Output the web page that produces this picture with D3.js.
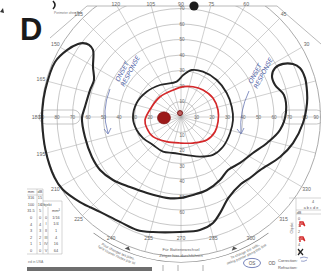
<!DOCTYPE html>
<html>
<head>
<meta charset="utf-8">
<script src="https://cdnjs.cloudflare.com/ajax/libs/d3/7.8.5/d3.min.js"></script>
<style>
  html, body { margin: 0; padding: 0; background: #fff; }
  svg { display: block; font-family: "Liberation Sans", Arial, sans-serif; }
</style>
</head>
<body>
<div id="chart"></div>
<script>
// ring eccentricities (deg) and meridian angles (deg, ccw from right)
var rings = [10, 20, 30, 40, 50, 60, 70, 80, 90];
var meridians = [0, 15, 30, 45, 60, 75, 90, 105, 120, 135, 150, 165, 180, 195, 210, 225, 240, 255, 270, 285, 300, 315, 330, 345];
var axisTicks = [10, 20, 30, 40, 50, 60, 70, 80, 90];

// isopters as [meridian angle, eccentricity]
var outerIsopter = [[142.7,71.4],[150.4,65.3],[157,61],[163.5,61.2],[174,62.3],[180.6,63.9],[191.8,63.3],[204.2,63],[213.2,62.4],[222.8,59.8],[233.9,55.9],[245.9,53.7],[259.8,53],[269.3,52.3],[278.7,50.9],[289.6,50],[301.8,47.8],[311.6,45.7],[322.1,48.3],[333.4,51.9],[343.2,58],[352.5,64.4],[2.7,67.8],[12.1,67.9],[18.8,64.1],[24.3,64.4],[27.5,68.4],[27.5,74.2],[25.3,79.9],[22.4,83],[17.5,83.9],[11.2,82.9],[6.3,81.8],[357.2,78.8],[346.9,74.2],[338,68.9],[326.1,61.4],[318.5,59.4],[311.8,58],[300.4,60.5],[292.1,66.9],[286.8,71.4],[279.5,73.9],[269.5,74.2],[256.3,76.4],[248.7,78.2],[239.8,78.3],[229.5,80.5],[220.1,85.2],[211.5,89.5],[205.5,90.5],[193.6,90],[182.5,89.6],[177.1,89.6],[168.8,89.3],[156.4,88.7],[149.6,85.3],[144.7,81.4],[143,79.2],[141.9,75.4]];
var middleIsopter = [[181.2,31],[162.5,30],[143.6,27.5],[123.3,24.7],[97,23],[86.9,27.1],[77.2,31.1],[64.1,32.5],[46,33.2],[27.7,33.3],[11.5,33.4],[356.7,33.6],[341.9,33.3],[324.7,33.2],[310.1,32],[295.6,28.4],[278.5,24.8],[257.5,23.8],[242.6,25.2],[225,25.5],[209,28],[196.4,29.8]];
var innerIsopter = [[184.8,23.3],[160.6,20],[136,18.8],[105.9,18.1],[85.7,19.6],[68.4,21],[50.8,22.5],[30.7,24],[10.7,24.3],[352.8,24.1],[336.6,23.9],[318.2,22.3],[294.8,18.5],[267.7,16.8],[239.9,18.4],[215.1,22.1],[197.8,23.2]];
var blindSpot = {angle: 183, ecc: 11, rx: 4.2, ry: 3.9};
var fixation = {angle: 104, ecc: 2.6, r: 1.6};

var tableLeft = [["mm","dB"],["316","15"],["100","10"],["31.5","5"],["0","0"],["4","4"],["3","3"],["2","2"],["1","1"],["0","0"]];
var tableObjects = [["Objekt",""],["","mm²"],["0","1/16"],["I","1/4"],["II","1"],["III","4"],["IV","16"],["V","64"]];
var tableRightRows = ["0","1","2","3","4","5"];

var W = 321, H = 271, cx = 181, cy = 117;
var r = d3.scaleLinear().domain([0, 90]).range([0, 139.5]);

function pt(a, e) {
    var t = a * Math.PI / 180;
    return [cx + r(e) * Math.cos(t), cy - r(e) * Math.sin(t)];
}

var svg = d3.select("#chart").append("svg")
    .attr("width", W).attr("height", H)
    .attr("viewBox", "0 0 " + W + " " + H);

svg.append("rect").attr("width", W).attr("height", H).attr("fill", "#fff");

var defs = svg.append("defs");
var clip = defs.append("clipPath").attr("id", "field");
clip.append("path")
    .attr("d", "M0,6 H" + W + " V" + H + " H0 Z");

var grid = svg.append("g").attr("clip-path", "url(#field)");

// rings
grid.selectAll("circle.ring")
    .data(rings)
    .enter()
    .append("circle")
    .attr("cx", cx).attr("cy", cy)
    .attr("r", function(d){ return r(d); })
    .attr("fill", "none")
    .attr("stroke", "#a2a2a2")
    .attr("stroke-width", function(d){ return d === 90 ? 0.9 : 0.6; });

// meridians
grid.selectAll("line.meridian")
    .data(meridians)
    .enter()
    .append("line")
    .attr("x1", function(d){ return pt(d, 0)[0]; })
    .attr("y1", function(d){ return pt(d, 0)[1]; })
    .attr("x2", function(d){ return pt(d, 90)[0]; })
    .attr("y2", function(d){ return pt(d, 90)[1]; })
    .attr("stroke", "#a8a8a8")
    .attr("stroke-width", 0.55);

// sheet outline (top edge and cut corners)
svg.append("path")
    .attr("d", "M50,38 L87,6 H277 L321,44")
    .attr("fill", "none").attr("stroke", "#9c9c9c").attr("stroke-width", 0.7);

// pills on horizontal axis
[[65, 91.5, 180], [65, 92, 0]].forEach(function(p){
    var a = pt(p[2], p[0])[0], b = pt(p[2], p[1])[0];
    svg.append("rect")
        .attr("x", Math.min(a, b)).attr("y", cy - 7)
        .attr("width", Math.abs(b - a)).attr("height", 14)
        .attr("rx", 7)
        .attr("fill", "none").attr("stroke", "#a0a0a0").attr("stroke-width", 0.6);
});

// axis numbers
var lab = svg.append("g")
    .attr("font-size", 4.6).attr("fill", "#6a6a6a").attr("text-anchor", "middle");
axisTicks.forEach(function(d){
    lab.append("text").attr("x", pt(180, d)[0]).attr("y", cy + 1.6).text(d);
    lab.append("text").attr("x", Math.min(pt(0, d)[0], 316)).attr("y", cy + 1.6).text(d);
    if (d <= 70) lab.append("text").attr("x", cx + 1).attr("y", pt(90, d)[1] + 1.6).text(d);
    if (d <= 60) lab.append("text").attr("x", cx + 1).attr("y", pt(270, d)[1] + 4).text(d);
});

// meridian labels (those beyond the right edge of the scan are not shown)
var mlab = svg.append("g")
    .attr("font-size", 5.2).attr("fill", "#666").attr("text-anchor", "middle");
meridians.forEach(function(d){
    var s = Math.sin(d * Math.PI / 180), t = 145;
    if (s > 0.01) t = Math.min(t, (cy - 4) / s);
    if (s < -0.01) t = Math.min(t, (238 - cy) / -s);
    var p = [cx + t * Math.cos(d * Math.PI / 180), cy - t * s];
    if (p[0] > 314) return;
    mlab.append("text").attr("x", p[0]).attr("y", p[1] + 1.8).text(d);
});

// bottom band with arrows and battery text
svg.append("path")
    .attr("transform", "translate(" + cx + "," + cy + ")")
    .attr("d", d3.arc()({innerRadius: 145, outerRadius: 145.6, startAngle: 143 * Math.PI / 180, endAngle: 217 * Math.PI / 180}))
    .attr("fill", "#777");
[248, 292].forEach(function(a){
    var p = pt(a, 92.2);
    svg.append("path")
        .attr("d", "M-3,0 L3,0 L0,-3.2 Z")
        .attr("transform", "translate(" + p[0] + "," + p[1] + ") rotate(" + (270 - a) + ")")
        .attr("fill", "#555");
});
svg.append("text").attr("x", cx).attr("y", 251).attr("font-size", 4.2)
    .attr("fill", "#666").attr("text-anchor", "middle").text("Für Batteriewechsel");
svg.append("text").attr("x", cx).attr("y", 256.5).attr("font-size", 4.2)
    .attr("fill", "#666").attr("text-anchor", "middle").text("Zeiger hier durchführen");

[[234, 256, "Pour changer les piles,", 150.5], [234, 256, "faire tourner l'index par ici", 154.5],
 [285, 306, "To change the cells,", 150.5], [285, 306, "swing pointer along this line", 154.5]].forEach(function(b, i){
    var id = "tp" + i;
    var p0 = pt(b[0], r.invert(b[3])), p1 = pt(b[1], r.invert(b[3]));
    defs.append("path").attr("id", id)
        .attr("d", "M" + p0[0] + "," + p0[1] + " A" + b[3] + "," + b[3] + " 0 0 0 " + p1[0] + "," + p1[1]);
    svg.append("text").attr("font-size", 3.6).attr("fill", "#666")
        .append("textPath").attr("href", "#" + id).attr("startOffset", "50%")
        .attr("text-anchor", "middle").text(b[2]);
});

// isopters
var line = d3.line()
    .x(function(d){ return pt(d[0], d[1])[0]; })
    .y(function(d){ return pt(d[0], d[1])[1]; })
    .curve(d3.curveCatmullRomClosed.alpha(0.5));

svg.append("path").datum(outerIsopter)
    .attr("d", line).attr("fill", "none")
    .attr("stroke", "#262626").attr("stroke-width", 2.1).attr("stroke-linejoin", "round");
svg.append("path").datum(middleIsopter)
    .attr("d", line).attr("fill", "none")
    .attr("stroke", "#262626").attr("stroke-width", 1.8);
svg.append("path").datum(innerIsopter)
    .attr("d", line).attr("fill", "none")
    .attr("stroke", "#d4282a").attr("stroke-width", 1.7);

// blind spot and fixation
var bs = pt(blindSpot.angle, blindSpot.ecc);
svg.append("ellipse")
    .attr("cx", bs[0]).attr("cy", bs[1])
    .attr("rx", r(blindSpot.rx)).attr("ry", r(blindSpot.ry))
    .attr("fill", "#9c1a1a").attr("stroke", "#7a1010").attr("stroke-width", 0.6);
var fx = pt(fixation.angle, fixation.ecc);
svg.append("circle").attr("cx", fx[0]).attr("cy", fx[1]).attr("r", r(fixation.r))
    .attr("fill", "#c06060").attr("stroke", "#7a1515").attr("stroke-width", 1);

// handwritten notes
var blue = "#5566aa";
[[119, 82], [252, 84]].forEach(function(n){
    var g = svg.append("g")
        .attr("transform", "translate(" + n[0] + "," + n[1] + ") rotate(-62)")
        .attr("fill", blue).attr("font-size", 6.3)
        .attr("font-family", "DejaVu Sans").attr("font-style", "italic");
    g.append("text").attr("x", 0).attr("y", 0).text("ONSET");
    g.append("text").attr("x", -2).attr("y", 7).text("RESPONSE");
});
svg.append("path").attr("d", "M110,89 Q101,111 108,133 M104,129 L108,134 L111,128")
    .attr("fill", "none").attr("stroke", blue).attr("stroke-width", 0.7);
svg.append("path").attr("d", "M249,91 Q239,112 241,133 M237,129 L241,134 L244,128")
    .attr("fill", "none").attr("stroke", blue).attr("stroke-width", 0.7);

// panel letter and marks
svg.append("text").attr("x", 20).attr("y", 40)
    .attr("font-size", 31).attr("font-weight", "bold")
    .attr("font-family", "Liberation Sans, Arial, sans-serif")
    .attr("fill", "#1a1a1a").text("D");
svg.append("circle").attr("cx", 194).attr("cy", 6).attr("r", 4.6).attr("fill", "#1c1c1c");
svg.append("path").attr("d", "M53,1 Q57,5 53,9").attr("fill", "none")
    .attr("stroke", "#222").attr("stroke-width", 1.6);
svg.append("path").attr("d", "M0,12 L3,8 L4,13 Z").attr("fill", "#333");
svg.append("text").attr("x", 54).attr("y", 13.5).attr("font-size", 3.2)
    .attr("fill", "#777").text("Perimeter ohne Bes.");

// left tables
var tl = svg.append("g").attr("font-size", 3.9).attr("fill", "#555").attr("text-anchor", "middle");
tableLeft.forEach(function(row, i){
    var y = 192.5 + i * 6.6;
    tl.append("text").attr("x", 31).attr("y", y).text(row[0]);
    tl.append("text").attr("x", 40).attr("y", y).text(row[1]);
});
svg.append("path")
    .attr("d", "M27,189 H43 V254 H27 M37,189 V254 M27,195 H43 M43,201 H62 V254 H43 M48,207 V254")
    .attr("fill", "none").attr("stroke", "#aaa").attr("stroke-width", 0.5);
tableObjects.forEach(function(row, i){
    var y = 205.5 + i * 6.6;
    tl.append("text").attr("x", 46).attr("y", y).text(row[0]);
    tl.append("text").attr("x", 56).attr("y", y).text(row[1]);
});
svg.append("text").attr("x", 28).attr("y", 262.5).attr("font-size", 3.4)
    .attr("fill", "#777").text("ed in USA");
svg.append("rect").attr("x", 27).attr("y", 267).attr("width", 125).attr("height", 4).attr("fill", "#6e6e6e");
[163, 178, 203].forEach(function(x){
    svg.append("line").attr("x1", x).attr("x2", x).attr("y1", 265).attr("y2", 271)
        .attr("stroke", "#777").attr("stroke-width", 0.6);
});

// right table
var tr = svg.append("g").attr("font-size", 3.8).attr("fill", "#555").attr("text-anchor", "middle");
svg.append("path")
    .attr("d", "M289,198 H321 M296,210 H321 M296,214 H321 M296,198 V256")
    .attr("fill", "none").attr("stroke", "#aaa").attr("stroke-width", 0.5);
tr.append("text").attr("x", 313).attr("y", 203).text("4");
tr.append("text").attr("x", 311).attr("y", 209).text("a  b  c  d  e");
tr.append("text").attr("x", 299).attr("y", 213.5).text("dB");
tableRightRows.forEach(function(d, i){
    tr.append("text").attr("x", 299).attr("y", 220 + i * 6.5).text(d);
});
tr.append("text").attr("transform", "translate(293,228) rotate(-90)").text("Objekt");
[224, 239].forEach(function(y){
    svg.append("path").attr("d", "M300," + (y + 3) + " V" + (y - 2) + " h3 l1,2 h-3 M303,"+ y + " l2,2")
        .attr("fill", "none").attr("stroke", "#d42a2a").attr("stroke-width", 1.4);
});
svg.append("path").attr("d", "M298,249 L303,255 M303,249 L298,255")
    .attr("stroke", "#222").attr("stroke-width", 1.2);

svg.append("text").attr("x", 278).attr("y", 262).attr("font-size", 4).attr("fill", "#555").text("Correction:");
svg.append("text").attr("x", 278).attr("y", 268.5).attr("font-size", 4).attr("fill", "#555").text("Refraction:");
svg.append("path").attr("d", "M300,258 q4,-2 8,0 M301,261 q3,1 6,-1")
    .attr("fill", "none").attr("stroke", blue).attr("stroke-width", 0.6);
svg.append("text").attr("x", 252).attr("y", 264.5).attr("font-size", 4.6).attr("fill", "#555")
    .attr("text-anchor", "middle").text("OS");
svg.append("ellipse").attr("cx", 252).attr("cy", 263).attr("rx", 8.5).attr("ry", 4.6)
    .attr("fill", "none").attr("stroke", blue).attr("stroke-width", 0.8);
svg.append("text").attr("x", 272).attr("y", 264.5).attr("font-size", 4.6).attr("fill", "#555")
    .attr("text-anchor", "middle").text("OD");
</script>
</body>
</html>
